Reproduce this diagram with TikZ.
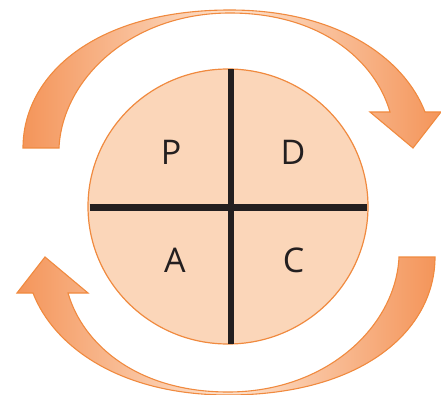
\documentclass[tikz,border=0pt]{standalone}
\usepackage{fontspec}
\setsansfont{Open Sans}

\definecolor{cycleedge}{HTML}{F08A3F}
\definecolor{cyclefill}{HTML}{FBD6B9}
\definecolor{arrowdark}{HTML}{F4955A}
\definecolor{arrowlight}{HTML}{FDE3CF}
\definecolor{quadline}{HTML}{231F20}

\tikzset{
  phase/.style={inner sep=0pt, text=quadline, font=\sffamily\fontsize{34}{40}\selectfont},
  arrowbody/.style={draw=cycleedge, line width=1.1pt, line join=miter,
    left color=arrowdark, right color=arrowdark, middle color=arrowlight},
}

\begin{document}
\begin{tikzpicture}[x=1pt,y=1pt]
        \useasboundingbox (0,0) rectangle (441,394);

        % 1. Curved arrows around the circle (bottom one is the top one turned)
        \foreach \ang in {0,180}
          \draw[arrowbody, rotate around={\ang:(229,191.5)}]
            (23,246) .. controls (23,319) and (95,384) .. (230,384)
            .. controls (340,384) and (405,334) .. (425,282)
            -- (441,282) -- (413,246) -- (370,282) -- (390,282)
            .. controls (375,334) and (320,381) .. (230,381)
            .. controls (130,381) and (62,314) .. (59,246) -- cycle;

        % 2. Circle
        \draw[cycleedge, fill=cyclefill, line width=1.2pt]
          (228,187.5) ellipse [x radius=140, y radius=137.5];

        % 3. Quadrant lines
        \draw[quadline, line width=6.5pt] (231,325) -- (231,50.5);
        \draw[quadline, line width=6.5pt] (89.5,186.7) -- (367,186.7);

        % 4. Letters
        \node[phase] (plan)  at (171,242)   {P};
        \node[phase] (do)    at (293,242)   {D};
        \node[phase] (act)   at (175,133.5) {A};
        \node[phase] (check) at (293.5,134) {C};
    \end{tikzpicture}
\end{document}
